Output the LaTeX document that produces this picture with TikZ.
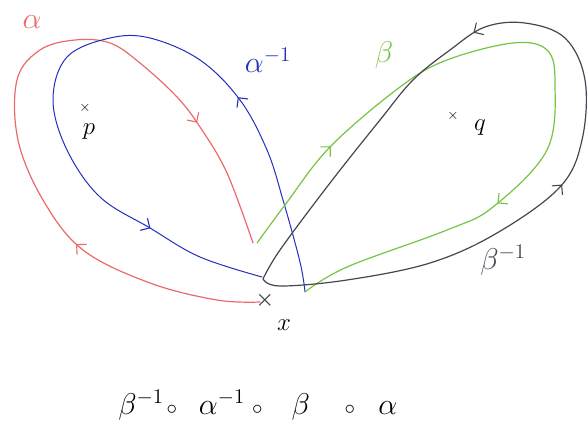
\documentclass[tikz,border=0pt]{standalone}
\usepackage{amsmath,amssymb}
\usepackage{tikz}
\usetikzlibrary{arrows.meta,calc,decorations.markings}

\definecolor{alphared}{RGB}{236,105,105}
\definecolor{alphablue}{RGB}{35,45,190}
\definecolor{betagreen}{RGB}{118,196,66}
\definecolor{betagrey}{RGB}{70,70,82}

\begin{document}
\begin{tikzpicture}[x=1pt,y=-1pt]
	\tikzset{lbl/.style = {inner sep=0pt,scale=1.45,font=\fontsize{22}{26}\selectfont}}
	\tikzset{ptmark/.style = {inner sep=0pt,font=\fontsize{14}{16}\selectfont}}
	\tikzset{ptname/.style = {inner sep=0pt,font=\fontsize{24}{28}\selectfont}}
	\tikzset{arrowat/.style={postaction={decorate,decoration={markings,mark=at position #1 with %
	    {\arrow{Straight Barb[length=7pt,width=14pt,line width=1.1pt]}}}}}}
	\tikzset{loopline/.style={line width=1.2pt,line cap=round,line join=round}}
	\useasboundingbox (0,0) rectangle (587,430);

	% points
	\node[ptmark,font=\fontsize{20}{20}\selectfont,text=betagrey] (x0) at (265,300) {$\boldsymbol{\times}$};
	\node[ptname] (xl) at (284,325) {$x$};
	\node[ptmark] (p0) at (85,108) {$\times$};
	\node[ptname] (pl) at (89,132) {$p$};
	\node[ptmark] (q0) at (453,116) {$\times$};
	\node[ptname] (ql) at (480,128) {$q$};

	% ends of the loops
	\coordinate (rs) at (260,302);
	\coordinate (re) at (253,243);
	\coordinate (gs) at (257,243);
	\coordinate (ge) at (305,292);
	\coordinate (bs) at (305,292);
	\coordinate (be) at (262,277);
	\coordinate (ks) at (263,279);

	% labels
	\node[lbl,text=alphared] (la) at (32,22) {$\alpha$};
	\node[lbl,text=alphablue] (lai) at (268,60) {$\alpha^{-1}$};
	\node[lbl,text=betagreen] (lb) at (384,55) {$\beta$};
	\node[lbl,text=betagrey] (lbi) at (503,260) {$\beta^{-1}$};
	\node[lbl,anchor=west] (word) at (118,405) {$\beta^{-1}$\hspace{2pt}$\scriptstyle\circ$\hspace{15pt}$\alpha^{-1}$\hspace{5pt}$\scriptstyle\circ$\hspace{20pt}$\beta$\hspace{24pt}$\scriptstyle\circ$\hspace{16pt}$\alpha$};

	% loops
	\draw[loopline,alphared,arrowat=0.265,arrowat=0.82] plot[smooth,tension=0.6] coordinates
	    {(rs) (217,300) (150,283) (83,250) (43,200) (18,140) (17,80) (40,50) (75,40) (110,43) (140,63) (177,97) (200,127) (227,173) (re)};
	\draw[loopline,line width=1pt,alphablue,arrowat=0.28,arrowat=0.835] plot[smooth,tension=0.6] coordinates
	    {(bs) (300,262) (283,200) (267,150) (240,100) (200,60) (150,38) (110,38) (67,57) (53,100) (67,150) (100,197) (150,228) (200,257) (be)};
	\draw[loopline,betagreen,arrowat=0.16,arrowat=0.72] plot[smooth,tension=0.6] coordinates
	    {(gs) (285,205) (330,147) (400,87) (447,60) (513,43) (547,50) (555,83) (547,150) (493,207) (447,230) (347,267) (ge)};
	\draw[loopline,betagrey,arrowat=0.36,arrowat=0.64] plot[smooth,tension=0.6] coordinates
	    {(ks) (280,286) (347,280) (430,263) (497,233) (560,187) (582,140) (585,80) (565,38) (525,23) (485,27) (450,50) (413,80) (380,120) (330,183) (280,250) (ks)};
\end{tikzpicture}
\end{document}
